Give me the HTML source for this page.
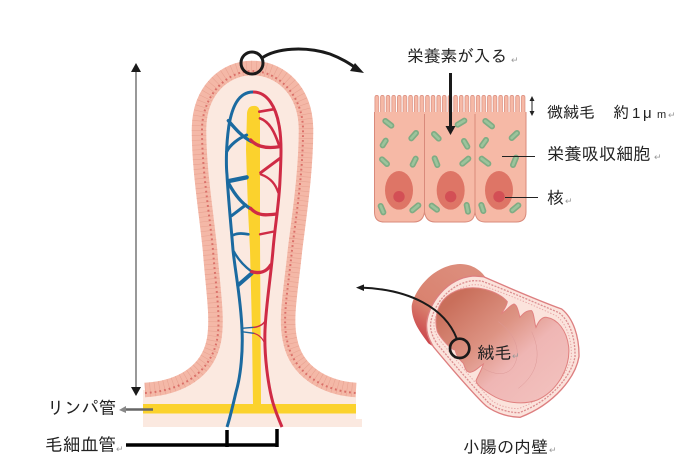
<!DOCTYPE html>
<html><head><meta charset="utf-8"><style>
html,body{margin:0;padding:0;background:#fff}
svg{display:block}
text{font-family:"Liberation Sans","IPAGothic","Noto Sans CJK JP",sans-serif;fill:#222}
.r{fill:#999;font-size:9px}
</style></head><body>
<svg width="697" height="467" viewBox="0 0 697 467" xmlns="http://www.w3.org/2000/svg">
<defs>
<pattern id="mv" x="374.500" y="95" width="5.630" height="19" patternUnits="userSpaceOnUse">
<path d="M0.400,19V2.500Q0.400,0.400 2.300,0.400Q4.100,0.400 4.100,2.500V19Z" fill="#f6b9a6" stroke="#d98a7b" stroke-width=".7"/>
</pattern>
<linearGradient id="lum" x1="0" y1="0" x2="1" y2="1"><stop offset=".12" stop-color="#c96f5b"/><stop offset=".42" stop-color="#dd9383"/><stop offset=".62" stop-color="#efb6b4"/><stop offset="1" stop-color="#f3c4c0"/></linearGradient>
<linearGradient id="cyl" x1="0" y1=".9" x2=".6" y2="0"><stop offset="0" stop-color="#c93a45"/><stop offset=".4" stop-color="#d9826f"/><stop offset="1" stop-color="#dc8d7c"/></linearGradient>
</defs>

<!-- villus -->
<path d="M143,390C180,388 208,372 214,340C218,318 213,290 210,250C206,210 199,170 199,130C199,90 225,68 252,68C280,68 306,90 306,130C306,170 300,210 295,250C291,290 285,318 290,340C296,372 325,388 356,390V427H143Z" fill="#fbe9e0"/>
<rect x="350" y="419" width="12" height="8" fill="#fbe9e0"/>
<g fill="none">
<path d="M145,390C180,388 208,372 214,340C218,318 213,290 210,250C206,210 199,170 199,130C199,90 225,68 252,68C280,68 306,90 306,130C306,170 300,210 295,250C291,290 285,318 290,340C296,372 325,388 356,390" stroke="#f4b8a7" stroke-width="14.500"/>
<path d="M145,390C180,388 208,372 214,340C218,318 213,290 210,250C206,210 199,170 199,130C199,90 225,68 252,68C280,68 306,90 306,130C306,170 300,210 295,250C291,290 285,318 290,340C296,372 325,388 356,390" stroke="#e8a392" stroke-width="14.500" stroke-dasharray=".6 4.200"/>
<path d="M145,393C180,391 210,374 217,340C221,318 216,290 213,250C209,210 202,170 202,130C202,95 227,71 252,71C278,71 303,95 303,130C303,170 297,210 292,250C288,290 282,318 287,340C293,374 325,391 356,393" stroke="#da6f68" stroke-width="2" stroke-dasharray="1.800 3"/>
</g>
<!-- lymph -->
<rect x="143" y="404" width="213" height="9.500" fill="#fbd22d"/>
<path d="M247,113Q248,106 253,106Q259,105 260,112L260,150L260,240L261,404H253L252,330L250,250L248,210L246,150Z" fill="#fbd22d"/>
<!-- vessels -->
<g fill="none" stroke-linecap="round">
<path d="M253,92C238,92 232,108 229,125C226,145 226,165 227,175C228,195 231,225 233,250C235,270 241,300 242,330C243,350 241,375 236,392C233,405 230,418 227,427" stroke="#1b6aa0" stroke-width="3" stroke-linecap="butt"/>
<path d="M253,92C268,92 276,108 279,125C282,140 281,160 280,180C279,205 275,225 273,250C271,275 266,305 265,330C264,355 268,385 273,403C276,413 279,420 282,427" stroke="#cf2b45" stroke-width="3" stroke-linecap="butt"/>
<g transform="translate(130,40) scale(.33333)" stroke="#1b6aa0">
<path d="M295,242C315,265 335,290 365,305" stroke-width="10"/>
<path d="M290,335C300,315 325,295 350,285" stroke-width="9"/>
<path d="M297,423L350,412" stroke-width="13"/>
<path d="M297,432C315,465 335,490 360,505" stroke-width="10"/>
<path d="M305,527L347,495" stroke-width="9"/>
<path d="M310,585C325,578 340,580 355,583" stroke-width="8"/>
</g>
<g transform="translate(130,40) scale(.33333)" stroke="#cf2b45">
<path d="M388,215L430,208" stroke-width="8"/>
<path d="M390,235C420,245 435,280 447,315" stroke-width="8"/>
<path d="M362,300C385,325 420,325 450,320" stroke-width="10"/>
<path d="M392,398L450,355" stroke-width="9"/>
<path d="M392,403C425,415 437,435 445,458" stroke-width="7"/>
<path d="M362,505C385,530 410,525 440,522" stroke-width="10"/>
<path d="M390,583L430,575" stroke-width="7"/>
</g>
<g transform="translate(30,250) scale(.33333)">
<path d="M612,5C625,30 645,50 665,65" stroke="#1b6aa0" stroke-width="7"/>
<path d="M625,105L665,70" stroke="#1b6aa0" stroke-width="12"/>
<path d="M665,65C690,72 710,65 722,45" stroke="#cf2b45" stroke-width="10"/>
<path d="M635,235L672,232" stroke="#1b6aa0" stroke-width="4"/>
<path d="M635,245L672,250" stroke="#1b6aa0" stroke-width="4"/>
<path d="M672,232C690,230 702,222 708,208" stroke="#cf2b45" stroke-width="4.500"/>
<path d="M672,250C690,255 700,268 706,285" stroke="#cf2b45" stroke-width="3.500"/>
</g>
</g>

<!-- top circle & curve -->
<circle cx="252" cy="63" r="11" fill="none" stroke="#1a1a1a" stroke-width="3"/>
<path d="M262,58C276,48 305,46 330,54C343,59 350,64 356,68" fill="none" stroke="#1a1a1a" stroke-width="3"/>
<path d="M364,73L350,71L355,63Z" fill="#1a1a1a"/>

<!-- height arrow -->
<line x1="136" y1="68" x2="136" y2="390" stroke="#555" stroke-width="1.200"/>
<path d="M136,63L141,72H131Z" fill="#1a1a1a"/>
<path d="M136,396L131,387H141Z" fill="#1a1a1a"/>

<!-- cells -->
<rect x="374.500" y="95" width="152" height="19" fill="url(#mv)"/>
<rect x="375" y="112" width="151" height="100" fill="#f6b9a6"/>
<path d="M374.500,112V212Q374.500,222 384,222H414Q423,222 424.500,212V114M424.500,212Q426,222 435,222H465Q474,222 475,212V114M475,212Q476,222 485,222H516Q526,222 526,212V112" fill="#f6b9a6" stroke="#d98a7b" stroke-width="1"/>
<g transform="translate(360,40) scale(.33333)">
<g stroke="#7fac84" stroke-width="18" stroke-linecap="round" fill="none">
<path d="M76,243L94,257M68,316L77,302M154,295L168,279M66,358L81,372M158,374L167,356M62,498L70,517M157,511L175,496M222,282L236,296M293,254L313,242M312,303L322,320M307,371L325,356M224,355L232,375M215,497L231,509M320,495L324,515M376,243L396,259M366,317L378,300M455,294L471,279M365,356L385,371M459,375L468,353M364,495L370,513M457,511L475,496"/>
</g>
<g stroke="#9cc39b" stroke-width="8" stroke-linecap="round" fill="none">
<path d="M76,243L94,257M68,316L77,302M154,295L168,279M66,358L81,372M158,374L167,356M62,498L70,517M157,511L175,496M222,282L236,296M293,254L313,242M312,303L322,320M307,371L325,356M224,355L232,375M215,497L231,509M320,495L324,515M376,243L396,259M366,317L378,300M455,294L471,279M365,356L385,371M459,375L468,353M364,495L370,513M457,511L475,496"/>
</g>
<g fill="#de7566">
<ellipse cx="117" cy="451" rx="42" ry="58"/><ellipse cx="272" cy="451" rx="42" ry="58"/><ellipse cx="417" cy="451" rx="42" ry="58"/>
</g>
<g fill="#d34f55">
<circle cx="117" cy="470" r="17"/><circle cx="272" cy="470" r="17"/><circle cx="417" cy="470" r="17"/>
</g>
</g>
<rect x="449" y="73" width="3" height="54" fill="#1a1a1a"/>
<path d="M450.500,135L445.500,126H455.500Z" fill="#1a1a1a"/>
<line x1="502" y1="156.500" x2="535" y2="156.500" stroke="#222" stroke-width="1"/>
<line x1="505" y1="197.500" x2="538" y2="197.500" stroke="#222" stroke-width="1"/>
<line x1="532" y1="99" x2="532" y2="113" stroke="#222" stroke-width="1"/>
<path d="M532,96L534.500,101H529.500ZM532,116L529.500,111H534.500Z" fill="#222"/>

<!-- intestine -->
<g transform="translate(410,260) scale(.33333)">
<path d="M5,140C12,90 70,15 150,12C190,12 215,35 225,50L70,260L55,250C30,215 5,185 5,140Z" fill="url(#cyl)"/>
<path d="M50,190C55,130 110,55 190,48L220,50C300,85 380,120 455,147C490,175 508,230 507,290C497,350 435,432 330,472C290,472 240,452 220,430C180,390 120,320 70,260C55,235 48,215 50,190Z" fill="#fbe3dc" stroke="#dd7f80" stroke-width="4"/>
<path d="M62,190C68,140 115,70 190,62L215,63C300,95 380,130 447,158C478,182 496,230 495,290C485,345 428,420 328,458C290,458 245,442 228,420C190,380 130,310 80,250C68,230 60,212 62,190Z" fill="none" stroke="#dc8e90" stroke-width="4" stroke-dasharray="6 4"/>
<path d="M72,190C78,148 122,82 190,74L212,75C300,105 380,140 440,168C468,190 486,235 484,290C475,342 420,410 326,446C290,446 250,432 236,412C198,372 140,302 90,242C78,224 70,208 72,190Z" fill="none" stroke="#e6a5a5" stroke-width="3" stroke-dasharray="4 5"/>
<path d="M100,120C125,90 175,75 225,88C255,95 280,110 292,125C290,140 280,150 275,160C290,152 300,135 312,132C322,135 325,155 330,172C340,160 350,150 365,152C373,160 372,185 378,202C385,185 395,170 410,172C442,177 470,210 476,260C482,320 444,392 382,420C335,437 280,427 245,405C220,390 200,375 198,362C205,345 215,330 220,312C205,322 195,335 180,337C165,335 165,320 160,310C150,300 140,290 135,270C125,270 95,240 82,215C72,180 80,145 100,120Z" fill="url(#lum)" stroke="#e0807f" stroke-width="3"/>
<g fill="none" stroke="#dd9a98" stroke-width="1.500">
<path d="M265,185C320,225 335,280 310,320C290,350 250,345 215,322"/>
<path d="M365,215C395,280 385,340 325,385"/>
</g>
</g>
<g transform="translate(350,250) scale(.33333)">
<path d="M320,265C285,175 180,118 35,113" fill="none" stroke="#1a1a1a" stroke-width="6"/>
<path d="M18,113L42,103V123Z" fill="#1a1a1a"/>
<circle cx="329" cy="295" r="29" fill="none" stroke="#1a1a1a" stroke-width="8"/>
</g>

<!-- bracket -->
<path d="M126,445H277M227,430V447M277,429V447" fill="none" stroke="#000" stroke-width="3.500"/>
<line x1="153" y1="409.500" x2="124" y2="409.500" stroke="#666" stroke-width="2.500"/>
<path d="M119,410L126,406V413Z" fill="#888"/>

<!-- labels -->
<text x="407" y="62" font-size="16.700">栄養素が入る</text><text x="511" y="63" class="r">↵</text>
<text x="547" y="118" font-size="16">微絨毛</text><text x="613" y="118" font-size="16">約</text><text x="632" y="118" font-size="15">1</text><text x="643" y="118" font-size="15">μ</text><text x="657" y="118" font-size="11">m</text><text x="668" y="118" class="r">↵</text>
<text x="547" y="160" font-size="17.300">栄養吸収細胞</text><text x="654" y="160" class="r">↵</text>
<text x="547" y="204" font-size="17">核</text><text x="565" y="204" class="r">↵</text>
<text x="477" y="359" font-size="17.300">絨毛</text><text x="512" y="359" class="r">↵</text>
<text x="463" y="453" font-size="17">小腸の内壁</text><text x="549" y="453" class="r">↵</text>
<text x="47" y="414" font-size="17.300">リンパ管</text>
<text x="45" y="451" font-size="17.800">毛細血管</text><text x="116" y="452" class="r">↵</text>
</svg>
</body></html>
